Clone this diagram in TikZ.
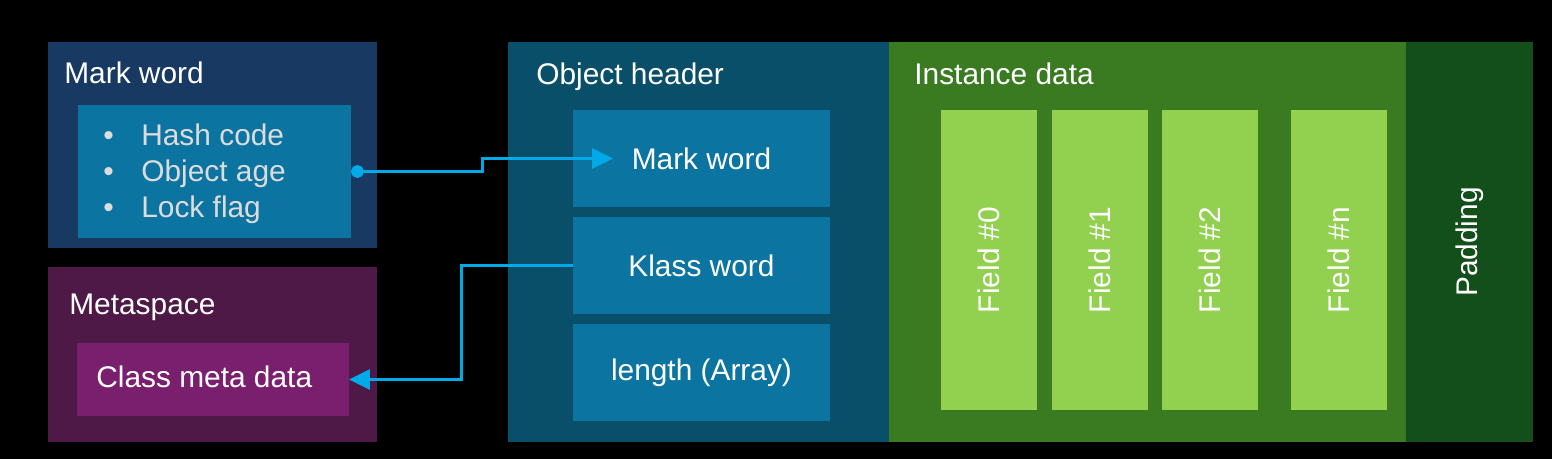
\documentclass[tikz,border=0pt]{standalone}
\usepackage{fontspec}
\setmainfont{Liberation Sans}
\usetikzlibrary{arrows.meta}

\definecolor{markdark}{HTML}{183A62}
\definecolor{boxblue}{HTML}{0B74A0}
\definecolor{metadark}{HTML}{4E1947}
\definecolor{metalight}{HTML}{7A1F6E}
\definecolor{headdark}{HTML}{0A4F69}
\definecolor{instgreen}{HTML}{3A7B22}
\definecolor{fieldgreen}{HTML}{92D050}
\definecolor{paddark}{HTML}{134F1B}
\definecolor{linkcyan}{HTML}{00A9E8}
\definecolor{bullgray}{HTML}{DCDCDC}

\tikzset{
  area/.style={anchor=north west, inner sep=0pt, outer sep=0pt},
  title/.style={anchor=base west, inner sep=0pt, text=white, font=\fontsize{17}{20}\selectfont},
  label/.style={text=white, font=\fontsize{17}{20}\selectfont},
  link/.style={draw=linkcyan, line width=0.06cm, -{Triangle[length=0.42cm,width=0.4cm]}}
}

\begin{document}
\begin{tikzpicture}[x=0.02cm, y=-0.02cm]
    % Background
    \fill[black] (0,0) rectangle (1552,459);
    \useasboundingbox (0,0) rectangle (1552,459);

    % Mark word
    \node[area, fill=markdark, minimum width=6.58cm, minimum height=4.12cm] (markouter) at (48,42) {};
    \node[area, fill=boxblue, minimum width=5.46cm, minimum height=2.66cm] (markinner) at (78,105) {};
    \node[title] (marktitle) at (64,84) {Mark word};
    \node[anchor=base west, inner sep=0pt, text=bullgray, align=left, font=\fontsize{17}{20.5}\selectfont] (marklist) at (103,218)
      {\makebox[0.76cm][l]{•}Hash code\\ \makebox[0.76cm][l]{•}Object age\\ \makebox[0.76cm][l]{•}Lock flag};

    % Metaspace
    \node[area, fill=metadark, minimum width=6.58cm, minimum height=3.5cm] (metaouter) at (48,267) {};
    \node[area, fill=metalight, minimum width=5.44cm, minimum height=1.46cm] (metainner) at (77,343) {};
    \node[title] (metatitle) at (69,315) {Metaspace};
    \node[title] (metatext) at (96,387) {Class meta data};

    % Object header
    \node[area, fill=headdark, minimum width=7.62cm, minimum height=8cm] (header) at (508,42) {};
    \node[title] (headtitle) at (536,85) {Object header};
    \node[area, fill=boxblue, minimum width=5.14cm, minimum height=1.94cm] (hmark) at (573,110) {};
    \node[area, fill=boxblue, minimum width=5.14cm, minimum height=1.94cm] (hklass) at (573,217) {};
    \node[area, fill=boxblue, minimum width=5.14cm, minimum height=1.94cm] (hlen) at (573,324) {};
    \node[label] at (hmark) {Mark word};
    \node[label] at (hklass) {Klass word};
    \node[label] at (hlen) {length (Array)};

    % Instance data
    \node[area, fill=instgreen, minimum width=10.34cm, minimum height=8cm] (inst) at (889,42) {};
    \node[title] (insttitle) at (914,85) {Instance data};
    \foreach \x/\lbl [count=\i] in {941/Field \#0, 1052/Field \#1, 1162/Field \#2, 1291/Field \#n} {
      \node[area, fill=fieldgreen, minimum width=1.92cm, minimum height=6cm] (field\i) at (\x,110) {};
      \node[label, rotate=90] at (field\i) {\lbl};
    }

    % Padding
    \node[area, fill=paddark, minimum width=2.54cm, minimum height=8cm] (pad) at (1406,42) {};
    \node[label, rotate=90] at (pad) {Padding};

    % Links
    \draw[link, {Circle[length=0.26cm]}-{Triangle[length=0.42cm,width=0.4cm]}]
      (markinner.east) -- ++(132,0) |- ([xshift=0.8cm]hmark.west);
    \draw[link] (hklass.west) -- ++(-112,0) |- (metainner.east);
\end{tikzpicture}
\end{document}
